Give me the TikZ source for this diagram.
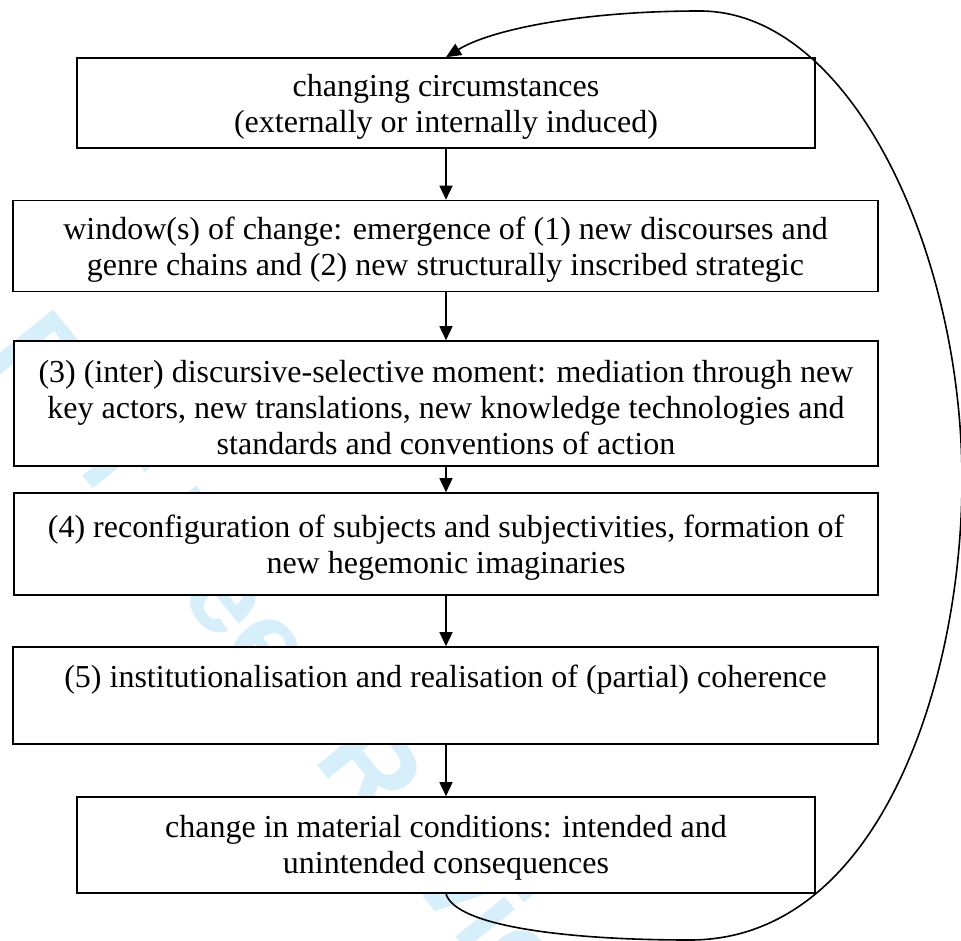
\documentclass[tikz,border=0pt]{standalone}
\usepackage{fontspec}
\setmainfont{Liberation Serif}
\newfontfamily\wmfont{Liberation Sans}
\usetikzlibrary{arrows.meta}
\definecolor{wmblue}{RGB}{214,239,251}
\tikzset{
  box/.style={draw, line width=1.6pt, fill=white, inner sep=0pt},
  boxtext/.style={align=center, inner sep=0pt, font=\fontsize{32}{36}\selectfont},
  flow/.style={line width=1.5pt, -{Triangle[length=14pt,width=13pt]}},
  loopline/.style={line width=1.6pt, -{Triangle[length=15pt,width=13pt]}},
}
\begin{document}
\begin{tikzpicture}[x=1pt,y=-1pt]
\useasboundingbox (0,0) rectangle (961,941);
\node[rotate=-51, text=wmblue, font=\wmfont\bfseries\fontsize{120}{120}\selectfont] (wm) at (312,691) {For Peer Review};
% boxes
\node[box, minimum width=738pt, minimum height=90pt] (b1) at (446,103) {};
\node[box, minimum width=865pt, minimum height=91pt] (b2) at (445.5,246) {};
\node[box, minimum width=864pt, minimum height=125pt] (b3) at (446,403.5) {};
\node[box, minimum width=864pt, minimum height=102pt] (b4) at (446,544) {};
\node[box, minimum width=865pt, minimum height=97pt] (b5) at (445.5,695.5) {};
\node[box, minimum width=738pt, minimum height=96pt] (b6) at (446,845) {};
% texts
\node[boxtext] (t1) at ([yshift=-4pt]b1.center)
  {changing circumstances\\(externally or internally induced)};
\node[boxtext] (t2) at ([yshift=-4pt]b2.center)
  {window(s) of change: emergence of (1) new discourses and\\genre chains and (2) new structurally inscribed strategic};
\node[boxtext] (t3) at ([yshift=-4pt]b3.center)
  {(3) (inter) discursive-selective moment: mediation through new\\key actors, new translations, new knowledge technologies and\\standards and conventions of action};
\node[boxtext] (t4) at ([yshift=-4pt]b4.center)
  {(4) reconfiguration of subjects and subjectivities, formation of\\new hegemonic imaginaries};
\node[boxtext] (t5) at ([yshift=-4pt]b5.center)
  {(5) institutionalisation and realisation of (partial) coherence\\ \strut};
\node[boxtext] (t6) at ([yshift=-3pt]b6.center)
  {change in material conditions: intended and\\unintended consequences};
% connectors
\draw[flow] (b1.south) -- (b1.south |- b2.north);
\draw[flow] (b1.south |- b2.south) -- (b1.south |- b3.north);
\draw[flow] (b1.south |- b3.south) -- (b1.south |- b4.north);
\draw[flow] (b1.south |- b4.south) -- (b1.south |- b5.north);
\draw[flow] (b1.south |- b5.south) -- (b1.south |- b6.north);
\draw[loopline] (b6.south) .. controls (455,925) and (560,940) .. (690,940)
  .. controls (880,940) and (962,680) .. (962,480)
  .. controls (962,250) and (850,11) .. (700,11)
  .. controls (580,11) and (490,30) .. (b1.north);
\end{tikzpicture}
\end{document}
